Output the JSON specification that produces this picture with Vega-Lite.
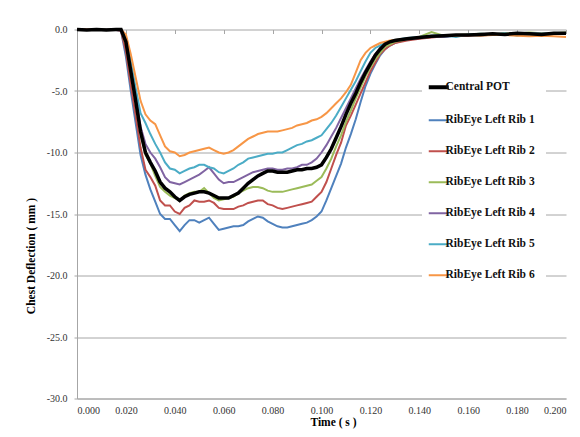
{
"$schema": "https://vega.github.io/schema/vega-lite/v6.json",
"width": 489,
"height": 369,
"autosize": "none",
"padding": {"left": 77, "top": 29.5, "right": 14, "bottom": 38.5},
"background": "white",
"config": {"view": {"stroke": null}, "font": "Liberation Serif"},
"data": {"values": [
{"s":"Central POT","t":0,"v":0},{"s":"Central POT","t":0.004,"v":-0.05},{"s":"Central POT","t":0.008,"v":0},{"s":"Central POT","t":0.012,"v":-0.05},{"s":"Central POT","t":0.016,"v":0},{"s":"Central POT","t":0.018,"v":0},
{"s":"Central POT","t":0.02,"v":-1.0},{"s":"Central POT","t":0.022,"v":-3.4},{"s":"Central POT","t":0.024,"v":-5.8},{"s":"Central POT","t":0.026,"v":-8.3},{"s":"Central POT","t":0.028,"v":-10.0},{"s":"Central POT","t":0.03,"v":-10.8},{"s":"Central POT","t":0.032,"v":-11.5},{"s":"Central POT","t":0.034,"v":-12.4},{"s":"Central POT","t":0.036,"v":-12.9},{"s":"Central POT","t":0.038,"v":-13.2},{"s":"Central POT","t":0.04,"v":-13.6},{"s":"Central POT","t":0.042,"v":-13.9},{"s":"Central POT","t":0.044,"v":-13.6},{"s":"Central POT","t":0.046,"v":-13.4},{"s":"Central POT","t":0.048,"v":-13.3},{"s":"Central POT","t":0.05,"v":-13.2},{"s":"Central POT","t":0.052,"v":-13.2},{"s":"Central POT","t":0.054,"v":-13.3},{"s":"Central POT","t":0.056,"v":-13.5},{"s":"Central POT","t":0.058,"v":-13.7},{"s":"Central POT","t":0.06,"v":-13.7},{"s":"Central POT","t":0.062,"v":-13.7},{"s":"Central POT","t":0.064,"v":-13.5},{"s":"Central POT","t":0.066,"v":-13.3},{"s":"Central POT","t":0.068,"v":-12.9},{"s":"Central POT","t":0.07,"v":-12.5},{"s":"Central POT","t":0.072,"v":-12.2},{"s":"Central POT","t":0.074,"v":-11.9},{"s":"Central POT","t":0.076,"v":-11.7},{"s":"Central POT","t":0.078,"v":-11.5},{"s":"Central POT","t":0.08,"v":-11.5},{"s":"Central POT","t":0.082,"v":-11.6},{"s":"Central POT","t":0.084,"v":-11.6},{"s":"Central POT","t":0.086,"v":-11.6},{"s":"Central POT","t":0.088,"v":-11.5},{"s":"Central POT","t":0.09,"v":-11.4},{"s":"Central POT","t":0.092,"v":-11.4},{"s":"Central POT","t":0.094,"v":-11.3},{"s":"Central POT","t":0.096,"v":-11.3},{"s":"Central POT","t":0.098,"v":-11.2},{"s":"Central POT","t":0.1,"v":-11.0},{"s":"Central POT","t":0.102,"v":-10.4},{"s":"Central POT","t":0.104,"v":-9.7},{"s":"Central POT","t":0.106,"v":-8.8},{"s":"Central POT","t":0.108,"v":-7.9},{"s":"Central POT","t":0.11,"v":-6.9},{"s":"Central POT","t":0.112,"v":-6.0},{"s":"Central POT","t":0.114,"v":-5.2},{"s":"Central POT","t":0.116,"v":-4.3},{"s":"Central POT","t":0.118,"v":-3.5},{"s":"Central POT","t":0.12,"v":-2.8},{"s":"Central POT","t":0.122,"v":-2.1},{"s":"Central POT","t":0.124,"v":-1.6},{"s":"Central POT","t":0.126,"v":-1.2},{"s":"Central POT","t":0.128,"v":-1.0},{"s":"Central POT","t":0.13,"v":-0.9},
{"s":"Central POT","t":0.135,"v":-0.75},{"s":"Central POT","t":0.14,"v":-0.65},{"s":"Central POT","t":0.145,"v":-0.55},{"s":"Central POT","t":0.15,"v":-0.5},{"s":"Central POT","t":0.155,"v":-0.45},{"s":"Central POT","t":0.16,"v":-0.45},{"s":"Central POT","t":0.165,"v":-0.4},{"s":"Central POT","t":0.17,"v":-0.35},{"s":"Central POT","t":0.175,"v":-0.4},{"s":"Central POT","t":0.18,"v":-0.3},{"s":"Central POT","t":0.185,"v":-0.35},{"s":"Central POT","t":0.19,"v":-0.4},{"s":"Central POT","t":0.195,"v":-0.3},{"s":"Central POT","t":0.2,"v":-0.3},

{"s":"RibEye Left Rib 1","t":0,"v":0},{"s":"RibEye Left Rib 1","t":0.004,"v":-0.05},{"s":"RibEye Left Rib 1","t":0.008,"v":0},{"s":"RibEye Left Rib 1","t":0.012,"v":-0.05},{"s":"RibEye Left Rib 1","t":0.016,"v":-0.05},{"s":"RibEye Left Rib 1","t":0.018,"v":-0.1},
{"s":"RibEye Left Rib 1","t":0.02,"v":-2.2},{"s":"RibEye Left Rib 1","t":0.022,"v":-5.0},{"s":"RibEye Left Rib 1","t":0.024,"v":-7.6},{"s":"RibEye Left Rib 1","t":0.026,"v":-10.2},{"s":"RibEye Left Rib 1","t":0.028,"v":-11.8},{"s":"RibEye Left Rib 1","t":0.03,"v":-13.0},{"s":"RibEye Left Rib 1","t":0.032,"v":-14.0},{"s":"RibEye Left Rib 1","t":0.034,"v":-15.0},{"s":"RibEye Left Rib 1","t":0.036,"v":-15.4},{"s":"RibEye Left Rib 1","t":0.038,"v":-15.4},{"s":"RibEye Left Rib 1","t":0.04,"v":-15.9},{"s":"RibEye Left Rib 1","t":0.042,"v":-16.4},{"s":"RibEye Left Rib 1","t":0.044,"v":-15.9},{"s":"RibEye Left Rib 1","t":0.046,"v":-15.5},{"s":"RibEye Left Rib 1","t":0.048,"v":-15.5},{"s":"RibEye Left Rib 1","t":0.05,"v":-15.7},{"s":"RibEye Left Rib 1","t":0.052,"v":-15.5},{"s":"RibEye Left Rib 1","t":0.054,"v":-15.3},{"s":"RibEye Left Rib 1","t":0.056,"v":-15.8},{"s":"RibEye Left Rib 1","t":0.058,"v":-16.3},{"s":"RibEye Left Rib 1","t":0.06,"v":-16.2},{"s":"RibEye Left Rib 1","t":0.062,"v":-16.1},{"s":"RibEye Left Rib 1","t":0.064,"v":-16.0},{"s":"RibEye Left Rib 1","t":0.066,"v":-16.0},{"s":"RibEye Left Rib 1","t":0.068,"v":-15.9},{"s":"RibEye Left Rib 1","t":0.07,"v":-15.6},{"s":"RibEye Left Rib 1","t":0.072,"v":-15.4},{"s":"RibEye Left Rib 1","t":0.074,"v":-15.2},{"s":"RibEye Left Rib 1","t":0.076,"v":-15.3},{"s":"RibEye Left Rib 1","t":0.078,"v":-15.6},{"s":"RibEye Left Rib 1","t":0.08,"v":-15.8},{"s":"RibEye Left Rib 1","t":0.082,"v":-16.0},{"s":"RibEye Left Rib 1","t":0.084,"v":-16.1},{"s":"RibEye Left Rib 1","t":0.086,"v":-16.1},{"s":"RibEye Left Rib 1","t":0.088,"v":-16.0},{"s":"RibEye Left Rib 1","t":0.09,"v":-15.9},{"s":"RibEye Left Rib 1","t":0.092,"v":-15.8},{"s":"RibEye Left Rib 1","t":0.094,"v":-15.7},{"s":"RibEye Left Rib 1","t":0.096,"v":-15.5},{"s":"RibEye Left Rib 1","t":0.098,"v":-15.2},{"s":"RibEye Left Rib 1","t":0.1,"v":-14.8},{"s":"RibEye Left Rib 1","t":0.102,"v":-13.9},{"s":"RibEye Left Rib 1","t":0.104,"v":-12.9},{"s":"RibEye Left Rib 1","t":0.106,"v":-11.9},{"s":"RibEye Left Rib 1","t":0.108,"v":-10.9},{"s":"RibEye Left Rib 1","t":0.11,"v":-9.6},{"s":"RibEye Left Rib 1","t":0.112,"v":-8.5},{"s":"RibEye Left Rib 1","t":0.114,"v":-7.3},{"s":"RibEye Left Rib 1","t":0.116,"v":-5.9},{"s":"RibEye Left Rib 1","t":0.118,"v":-4.6},{"s":"RibEye Left Rib 1","t":0.12,"v":-3.6},{"s":"RibEye Left Rib 1","t":0.122,"v":-2.8},{"s":"RibEye Left Rib 1","t":0.124,"v":-2.1},{"s":"RibEye Left Rib 1","t":0.126,"v":-1.6},{"s":"RibEye Left Rib 1","t":0.128,"v":-1.3},{"s":"RibEye Left Rib 1","t":0.13,"v":-1.1},
{"s":"RibEye Left Rib 1","t":0.135,"v":-0.8},{"s":"RibEye Left Rib 1","t":0.14,"v":-0.7},{"s":"RibEye Left Rib 1","t":0.145,"v":-0.6},{"s":"RibEye Left Rib 1","t":0.15,"v":-0.6},{"s":"RibEye Left Rib 1","t":0.155,"v":-0.5},{"s":"RibEye Left Rib 1","t":0.16,"v":-0.45},{"s":"RibEye Left Rib 1","t":0.165,"v":-0.5},{"s":"RibEye Left Rib 1","t":0.17,"v":-0.4},{"s":"RibEye Left Rib 1","t":0.175,"v":-0.45},{"s":"RibEye Left Rib 1","t":0.18,"v":-0.4},{"s":"RibEye Left Rib 1","t":0.185,"v":-0.35},{"s":"RibEye Left Rib 1","t":0.19,"v":-0.4},{"s":"RibEye Left Rib 1","t":0.195,"v":-0.3},{"s":"RibEye Left Rib 1","t":0.2,"v":-0.35},

{"s":"RibEye Left Rib 2","t":0,"v":0},{"s":"RibEye Left Rib 2","t":0.004,"v":0},{"s":"RibEye Left Rib 2","t":0.008,"v":-0.05},{"s":"RibEye Left Rib 2","t":0.012,"v":0},{"s":"RibEye Left Rib 2","t":0.016,"v":-0.05},{"s":"RibEye Left Rib 2","t":0.018,"v":-0.1},
{"s":"RibEye Left Rib 2","t":0.02,"v":-1.8},{"s":"RibEye Left Rib 2","t":0.022,"v":-4.5},{"s":"RibEye Left Rib 2","t":0.024,"v":-7.0},{"s":"RibEye Left Rib 2","t":0.026,"v":-9.6},{"s":"RibEye Left Rib 2","t":0.028,"v":-11.4},{"s":"RibEye Left Rib 2","t":0.03,"v":-12.0},{"s":"RibEye Left Rib 2","t":0.032,"v":-12.7},{"s":"RibEye Left Rib 2","t":0.034,"v":-13.9},{"s":"RibEye Left Rib 2","t":0.036,"v":-14.3},{"s":"RibEye Left Rib 2","t":0.038,"v":-14.3},{"s":"RibEye Left Rib 2","t":0.04,"v":-14.8},{"s":"RibEye Left Rib 2","t":0.042,"v":-15.0},{"s":"RibEye Left Rib 2","t":0.044,"v":-14.5},{"s":"RibEye Left Rib 2","t":0.046,"v":-14.3},{"s":"RibEye Left Rib 2","t":0.048,"v":-13.9},{"s":"RibEye Left Rib 2","t":0.05,"v":-14.0},{"s":"RibEye Left Rib 2","t":0.052,"v":-14.0},{"s":"RibEye Left Rib 2","t":0.054,"v":-13.9},{"s":"RibEye Left Rib 2","t":0.056,"v":-14.1},{"s":"RibEye Left Rib 2","t":0.058,"v":-14.5},{"s":"RibEye Left Rib 2","t":0.06,"v":-14.6},{"s":"RibEye Left Rib 2","t":0.062,"v":-14.6},{"s":"RibEye Left Rib 2","t":0.064,"v":-14.6},{"s":"RibEye Left Rib 2","t":0.066,"v":-14.4},{"s":"RibEye Left Rib 2","t":0.068,"v":-14.3},{"s":"RibEye Left Rib 2","t":0.07,"v":-14.1},{"s":"RibEye Left Rib 2","t":0.072,"v":-14.0},{"s":"RibEye Left Rib 2","t":0.074,"v":-13.9},{"s":"RibEye Left Rib 2","t":0.076,"v":-13.9},{"s":"RibEye Left Rib 2","t":0.078,"v":-14.2},{"s":"RibEye Left Rib 2","t":0.08,"v":-14.3},{"s":"RibEye Left Rib 2","t":0.082,"v":-14.5},{"s":"RibEye Left Rib 2","t":0.084,"v":-14.6},{"s":"RibEye Left Rib 2","t":0.086,"v":-14.5},{"s":"RibEye Left Rib 2","t":0.088,"v":-14.4},{"s":"RibEye Left Rib 2","t":0.09,"v":-14.3},{"s":"RibEye Left Rib 2","t":0.092,"v":-14.2},{"s":"RibEye Left Rib 2","t":0.094,"v":-14.1},{"s":"RibEye Left Rib 2","t":0.096,"v":-14.0},{"s":"RibEye Left Rib 2","t":0.098,"v":-13.6},{"s":"RibEye Left Rib 2","t":0.1,"v":-13.2},{"s":"RibEye Left Rib 2","t":0.102,"v":-12.4},{"s":"RibEye Left Rib 2","t":0.104,"v":-11.3},{"s":"RibEye Left Rib 2","t":0.106,"v":-10.2},{"s":"RibEye Left Rib 2","t":0.108,"v":-9.2},{"s":"RibEye Left Rib 2","t":0.11,"v":-7.8},{"s":"RibEye Left Rib 2","t":0.112,"v":-7.0},{"s":"RibEye Left Rib 2","t":0.114,"v":-6.1},{"s":"RibEye Left Rib 2","t":0.116,"v":-5.2},{"s":"RibEye Left Rib 2","t":0.118,"v":-4.3},{"s":"RibEye Left Rib 2","t":0.12,"v":-3.4},{"s":"RibEye Left Rib 2","t":0.122,"v":-2.7},{"s":"RibEye Left Rib 2","t":0.124,"v":-2.0},{"s":"RibEye Left Rib 2","t":0.126,"v":-1.6},{"s":"RibEye Left Rib 2","t":0.128,"v":-1.3},{"s":"RibEye Left Rib 2","t":0.13,"v":-1.1},
{"s":"RibEye Left Rib 2","t":0.135,"v":-0.9},{"s":"RibEye Left Rib 2","t":0.14,"v":-0.75},{"s":"RibEye Left Rib 2","t":0.145,"v":-0.65},{"s":"RibEye Left Rib 2","t":0.15,"v":-0.55},{"s":"RibEye Left Rib 2","t":0.155,"v":-0.5},{"s":"RibEye Left Rib 2","t":0.16,"v":-0.5},{"s":"RibEye Left Rib 2","t":0.165,"v":-0.4},{"s":"RibEye Left Rib 2","t":0.17,"v":-0.45},{"s":"RibEye Left Rib 2","t":0.175,"v":-0.35},{"s":"RibEye Left Rib 2","t":0.18,"v":-0.4},{"s":"RibEye Left Rib 2","t":0.185,"v":-0.3},{"s":"RibEye Left Rib 2","t":0.19,"v":-0.35},{"s":"RibEye Left Rib 2","t":0.195,"v":-0.3},{"s":"RibEye Left Rib 2","t":0.2,"v":-0.3},

{"s":"RibEye Left Rib 3","t":0,"v":0},{"s":"RibEye Left Rib 3","t":0.004,"v":-0.05},{"s":"RibEye Left Rib 3","t":0.008,"v":0},{"s":"RibEye Left Rib 3","t":0.012,"v":0},{"s":"RibEye Left Rib 3","t":0.016,"v":-0.05},{"s":"RibEye Left Rib 3","t":0.018,"v":-0.05},
{"s":"RibEye Left Rib 3","t":0.02,"v":-1.2},{"s":"RibEye Left Rib 3","t":0.022,"v":-3.6},{"s":"RibEye Left Rib 3","t":0.024,"v":-6.0},{"s":"RibEye Left Rib 3","t":0.026,"v":-8.5},{"s":"RibEye Left Rib 3","t":0.028,"v":-10.2},{"s":"RibEye Left Rib 3","t":0.03,"v":-10.9},{"s":"RibEye Left Rib 3","t":0.032,"v":-11.9},{"s":"RibEye Left Rib 3","t":0.034,"v":-12.8},{"s":"RibEye Left Rib 3","t":0.036,"v":-13.2},{"s":"RibEye Left Rib 3","t":0.038,"v":-13.5},{"s":"RibEye Left Rib 3","t":0.04,"v":-13.7},{"s":"RibEye Left Rib 3","t":0.042,"v":-13.9},{"s":"RibEye Left Rib 3","t":0.044,"v":-13.5},{"s":"RibEye Left Rib 3","t":0.046,"v":-13.3},{"s":"RibEye Left Rib 3","t":0.048,"v":-13.2},{"s":"RibEye Left Rib 3","t":0.05,"v":-13.2},{"s":"RibEye Left Rib 3","t":0.052,"v":-12.9},{"s":"RibEye Left Rib 3","t":0.054,"v":-13.3},{"s":"RibEye Left Rib 3","t":0.056,"v":-13.7},{"s":"RibEye Left Rib 3","t":0.058,"v":-13.9},{"s":"RibEye Left Rib 3","t":0.06,"v":-13.8},{"s":"RibEye Left Rib 3","t":0.062,"v":-13.7},{"s":"RibEye Left Rib 3","t":0.064,"v":-13.6},{"s":"RibEye Left Rib 3","t":0.066,"v":-13.3},{"s":"RibEye Left Rib 3","t":0.068,"v":-13.1},{"s":"RibEye Left Rib 3","t":0.07,"v":-12.9},{"s":"RibEye Left Rib 3","t":0.072,"v":-12.8},{"s":"RibEye Left Rib 3","t":0.074,"v":-12.8},{"s":"RibEye Left Rib 3","t":0.076,"v":-12.9},{"s":"RibEye Left Rib 3","t":0.078,"v":-13.1},{"s":"RibEye Left Rib 3","t":0.08,"v":-13.2},{"s":"RibEye Left Rib 3","t":0.082,"v":-13.2},{"s":"RibEye Left Rib 3","t":0.084,"v":-13.2},{"s":"RibEye Left Rib 3","t":0.086,"v":-13.1},{"s":"RibEye Left Rib 3","t":0.088,"v":-13.0},{"s":"RibEye Left Rib 3","t":0.09,"v":-12.9},{"s":"RibEye Left Rib 3","t":0.092,"v":-12.8},{"s":"RibEye Left Rib 3","t":0.094,"v":-12.7},{"s":"RibEye Left Rib 3","t":0.096,"v":-12.6},{"s":"RibEye Left Rib 3","t":0.098,"v":-12.3},{"s":"RibEye Left Rib 3","t":0.1,"v":-12.0},{"s":"RibEye Left Rib 3","t":0.102,"v":-11.3},{"s":"RibEye Left Rib 3","t":0.104,"v":-10.5},{"s":"RibEye Left Rib 3","t":0.106,"v":-9.5},{"s":"RibEye Left Rib 3","t":0.108,"v":-8.6},{"s":"RibEye Left Rib 3","t":0.11,"v":-7.5},{"s":"RibEye Left Rib 3","t":0.112,"v":-6.6},{"s":"RibEye Left Rib 3","t":0.114,"v":-5.6},{"s":"RibEye Left Rib 3","t":0.116,"v":-4.7},{"s":"RibEye Left Rib 3","t":0.118,"v":-3.8},{"s":"RibEye Left Rib 3","t":0.12,"v":-3.1},{"s":"RibEye Left Rib 3","t":0.122,"v":-2.4},{"s":"RibEye Left Rib 3","t":0.124,"v":-1.9},{"s":"RibEye Left Rib 3","t":0.126,"v":-1.4},{"s":"RibEye Left Rib 3","t":0.128,"v":-1.2},{"s":"RibEye Left Rib 3","t":0.13,"v":-1.0},
{"s":"RibEye Left Rib 3","t":0.135,"v":-0.8},{"s":"RibEye Left Rib 3","t":0.14,"v":-0.6},{"s":"RibEye Left Rib 3","t":0.145,"v":-0.2},{"s":"RibEye Left Rib 3","t":0.15,"v":-0.5},{"s":"RibEye Left Rib 3","t":0.155,"v":-0.45},{"s":"RibEye Left Rib 3","t":0.16,"v":-0.4},{"s":"RibEye Left Rib 3","t":0.165,"v":-0.35},{"s":"RibEye Left Rib 3","t":0.17,"v":-0.4},{"s":"RibEye Left Rib 3","t":0.175,"v":-0.3},{"s":"RibEye Left Rib 3","t":0.18,"v":-0.35},{"s":"RibEye Left Rib 3","t":0.185,"v":-0.25},{"s":"RibEye Left Rib 3","t":0.19,"v":-0.3},{"s":"RibEye Left Rib 3","t":0.195,"v":-0.3},{"s":"RibEye Left Rib 3","t":0.2,"v":-0.25},

{"s":"RibEye Left Rib 4","t":0,"v":0},{"s":"RibEye Left Rib 4","t":0.004,"v":0},{"s":"RibEye Left Rib 4","t":0.008,"v":-0.05},{"s":"RibEye Left Rib 4","t":0.012,"v":0},{"s":"RibEye Left Rib 4","t":0.016,"v":0},{"s":"RibEye Left Rib 4","t":0.018,"v":0},
{"s":"RibEye Left Rib 4","t":0.02,"v":-0.8},{"s":"RibEye Left Rib 4","t":0.022,"v":-3.0},{"s":"RibEye Left Rib 4","t":0.024,"v":-5.3},{"s":"RibEye Left Rib 4","t":0.026,"v":-7.9},{"s":"RibEye Left Rib 4","t":0.028,"v":-9.3},{"s":"RibEye Left Rib 4","t":0.03,"v":-10.0},{"s":"RibEye Left Rib 4","t":0.032,"v":-10.5},{"s":"RibEye Left Rib 4","t":0.034,"v":-11.2},{"s":"RibEye Left Rib 4","t":0.036,"v":-12.0},{"s":"RibEye Left Rib 4","t":0.038,"v":-12.4},{"s":"RibEye Left Rib 4","t":0.04,"v":-12.5},{"s":"RibEye Left Rib 4","t":0.042,"v":-12.6},{"s":"RibEye Left Rib 4","t":0.044,"v":-12.4},{"s":"RibEye Left Rib 4","t":0.046,"v":-12.2},{"s":"RibEye Left Rib 4","t":0.048,"v":-12.0},{"s":"RibEye Left Rib 4","t":0.05,"v":-11.8},{"s":"RibEye Left Rib 4","t":0.052,"v":-11.5},{"s":"RibEye Left Rib 4","t":0.054,"v":-11.2},{"s":"RibEye Left Rib 4","t":0.056,"v":-11.7},{"s":"RibEye Left Rib 4","t":0.058,"v":-12.2},{"s":"RibEye Left Rib 4","t":0.06,"v":-12.5},{"s":"RibEye Left Rib 4","t":0.062,"v":-12.4},{"s":"RibEye Left Rib 4","t":0.064,"v":-12.4},{"s":"RibEye Left Rib 4","t":0.066,"v":-12.2},{"s":"RibEye Left Rib 4","t":0.068,"v":-12.0},{"s":"RibEye Left Rib 4","t":0.07,"v":-11.8},{"s":"RibEye Left Rib 4","t":0.072,"v":-11.6},{"s":"RibEye Left Rib 4","t":0.074,"v":-11.5},{"s":"RibEye Left Rib 4","t":0.076,"v":-11.4},{"s":"RibEye Left Rib 4","t":0.078,"v":-11.3},{"s":"RibEye Left Rib 4","t":0.08,"v":-11.3},{"s":"RibEye Left Rib 4","t":0.082,"v":-11.4},{"s":"RibEye Left Rib 4","t":0.084,"v":-11.4},{"s":"RibEye Left Rib 4","t":0.086,"v":-11.3},{"s":"RibEye Left Rib 4","t":0.088,"v":-11.3},{"s":"RibEye Left Rib 4","t":0.09,"v":-11.2},{"s":"RibEye Left Rib 4","t":0.092,"v":-11.0},{"s":"RibEye Left Rib 4","t":0.094,"v":-11.0},{"s":"RibEye Left Rib 4","t":0.096,"v":-10.8},{"s":"RibEye Left Rib 4","t":0.098,"v":-10.5},{"s":"RibEye Left Rib 4","t":0.1,"v":-10.0},{"s":"RibEye Left Rib 4","t":0.102,"v":-9.4},{"s":"RibEye Left Rib 4","t":0.104,"v":-8.7},{"s":"RibEye Left Rib 4","t":0.106,"v":-8.0},{"s":"RibEye Left Rib 4","t":0.108,"v":-7.2},{"s":"RibEye Left Rib 4","t":0.11,"v":-6.4},{"s":"RibEye Left Rib 4","t":0.112,"v":-5.6},{"s":"RibEye Left Rib 4","t":0.114,"v":-4.8},{"s":"RibEye Left Rib 4","t":0.116,"v":-4.0},{"s":"RibEye Left Rib 4","t":0.118,"v":-3.3},{"s":"RibEye Left Rib 4","t":0.12,"v":-2.6},{"s":"RibEye Left Rib 4","t":0.122,"v":-2.0},{"s":"RibEye Left Rib 4","t":0.124,"v":-1.5},{"s":"RibEye Left Rib 4","t":0.126,"v":-1.2},{"s":"RibEye Left Rib 4","t":0.128,"v":-1.0},{"s":"RibEye Left Rib 4","t":0.13,"v":-0.9},
{"s":"RibEye Left Rib 4","t":0.135,"v":-0.8},{"s":"RibEye Left Rib 4","t":0.14,"v":-0.7},{"s":"RibEye Left Rib 4","t":0.145,"v":-0.6},{"s":"RibEye Left Rib 4","t":0.15,"v":-0.55},{"s":"RibEye Left Rib 4","t":0.155,"v":-0.5},{"s":"RibEye Left Rib 4","t":0.16,"v":-0.45},{"s":"RibEye Left Rib 4","t":0.165,"v":-0.45},{"s":"RibEye Left Rib 4","t":0.17,"v":-0.4},{"s":"RibEye Left Rib 4","t":0.175,"v":-0.4},{"s":"RibEye Left Rib 4","t":0.18,"v":-0.35},{"s":"RibEye Left Rib 4","t":0.185,"v":-0.3},{"s":"RibEye Left Rib 4","t":0.19,"v":-0.35},{"s":"RibEye Left Rib 4","t":0.195,"v":-0.3},{"s":"RibEye Left Rib 4","t":0.2,"v":-0.3},

{"s":"RibEye Left Rib 5","t":0,"v":0},{"s":"RibEye Left Rib 5","t":0.004,"v":-0.05},{"s":"RibEye Left Rib 5","t":0.008,"v":0},{"s":"RibEye Left Rib 5","t":0.012,"v":-0.05},{"s":"RibEye Left Rib 5","t":0.016,"v":0},{"s":"RibEye Left Rib 5","t":0.018,"v":0},
{"s":"RibEye Left Rib 5","t":0.02,"v":-0.6},{"s":"RibEye Left Rib 5","t":0.022,"v":-2.6},{"s":"RibEye Left Rib 5","t":0.024,"v":-4.8},{"s":"RibEye Left Rib 5","t":0.026,"v":-6.8},{"s":"RibEye Left Rib 5","t":0.028,"v":-7.6},{"s":"RibEye Left Rib 5","t":0.03,"v":-8.5},{"s":"RibEye Left Rib 5","t":0.032,"v":-9.3},{"s":"RibEye Left Rib 5","t":0.034,"v":-10.0},{"s":"RibEye Left Rib 5","t":0.036,"v":-10.8},{"s":"RibEye Left Rib 5","t":0.038,"v":-11.3},{"s":"RibEye Left Rib 5","t":0.04,"v":-11.4},{"s":"RibEye Left Rib 5","t":0.042,"v":-11.7},{"s":"RibEye Left Rib 5","t":0.044,"v":-11.5},{"s":"RibEye Left Rib 5","t":0.046,"v":-11.3},{"s":"RibEye Left Rib 5","t":0.048,"v":-11.2},{"s":"RibEye Left Rib 5","t":0.05,"v":-11.0},{"s":"RibEye Left Rib 5","t":0.052,"v":-11.0},{"s":"RibEye Left Rib 5","t":0.054,"v":-11.2},{"s":"RibEye Left Rib 5","t":0.056,"v":-11.3},{"s":"RibEye Left Rib 5","t":0.058,"v":-11.6},{"s":"RibEye Left Rib 5","t":0.06,"v":-11.7},{"s":"RibEye Left Rib 5","t":0.062,"v":-11.5},{"s":"RibEye Left Rib 5","t":0.064,"v":-11.3},{"s":"RibEye Left Rib 5","t":0.066,"v":-11.0},{"s":"RibEye Left Rib 5","t":0.068,"v":-10.8},{"s":"RibEye Left Rib 5","t":0.07,"v":-10.5},{"s":"RibEye Left Rib 5","t":0.072,"v":-10.4},{"s":"RibEye Left Rib 5","t":0.074,"v":-10.3},{"s":"RibEye Left Rib 5","t":0.076,"v":-10.2},{"s":"RibEye Left Rib 5","t":0.078,"v":-10.1},{"s":"RibEye Left Rib 5","t":0.08,"v":-10.1},{"s":"RibEye Left Rib 5","t":0.082,"v":-10.0},{"s":"RibEye Left Rib 5","t":0.084,"v":-10.0},{"s":"RibEye Left Rib 5","t":0.086,"v":-9.8},{"s":"RibEye Left Rib 5","t":0.088,"v":-9.6},{"s":"RibEye Left Rib 5","t":0.09,"v":-9.4},{"s":"RibEye Left Rib 5","t":0.092,"v":-9.3},{"s":"RibEye Left Rib 5","t":0.094,"v":-9.1},{"s":"RibEye Left Rib 5","t":0.096,"v":-9.0},{"s":"RibEye Left Rib 5","t":0.098,"v":-8.8},{"s":"RibEye Left Rib 5","t":0.1,"v":-8.6},{"s":"RibEye Left Rib 5","t":0.102,"v":-8.1},{"s":"RibEye Left Rib 5","t":0.104,"v":-7.6},{"s":"RibEye Left Rib 5","t":0.106,"v":-7.0},{"s":"RibEye Left Rib 5","t":0.108,"v":-6.3},{"s":"RibEye Left Rib 5","t":0.11,"v":-5.6},{"s":"RibEye Left Rib 5","t":0.112,"v":-4.9},{"s":"RibEye Left Rib 5","t":0.114,"v":-4.2},{"s":"RibEye Left Rib 5","t":0.116,"v":-3.4},{"s":"RibEye Left Rib 5","t":0.118,"v":-2.6},{"s":"RibEye Left Rib 5","t":0.12,"v":-1.9},{"s":"RibEye Left Rib 5","t":0.122,"v":-1.5},{"s":"RibEye Left Rib 5","t":0.124,"v":-1.3},{"s":"RibEye Left Rib 5","t":0.126,"v":-1.1},{"s":"RibEye Left Rib 5","t":0.128,"v":-0.95},{"s":"RibEye Left Rib 5","t":0.13,"v":-0.85},
{"s":"RibEye Left Rib 5","t":0.135,"v":-0.7},{"s":"RibEye Left Rib 5","t":0.14,"v":-0.6},{"s":"RibEye Left Rib 5","t":0.145,"v":-0.5},{"s":"RibEye Left Rib 5","t":0.15,"v":-0.45},{"s":"RibEye Left Rib 5","t":0.155,"v":-0.6},{"s":"RibEye Left Rib 5","t":0.16,"v":-0.4},{"s":"RibEye Left Rib 5","t":0.165,"v":-0.35},{"s":"RibEye Left Rib 5","t":0.17,"v":-0.4},{"s":"RibEye Left Rib 5","t":0.175,"v":-0.3},{"s":"RibEye Left Rib 5","t":0.18,"v":-0.5},{"s":"RibEye Left Rib 5","t":0.185,"v":-0.3},{"s":"RibEye Left Rib 5","t":0.19,"v":-0.35},{"s":"RibEye Left Rib 5","t":0.195,"v":-0.3},{"s":"RibEye Left Rib 5","t":0.2,"v":-0.3},

{"s":"RibEye Left Rib 6","t":0,"v":0},{"s":"RibEye Left Rib 6","t":0.004,"v":0},{"s":"RibEye Left Rib 6","t":0.008,"v":0},{"s":"RibEye Left Rib 6","t":0.012,"v":-0.05},{"s":"RibEye Left Rib 6","t":0.016,"v":0},{"s":"RibEye Left Rib 6","t":0.018,"v":0},
{"s":"RibEye Left Rib 6","t":0.02,"v":-0.4},{"s":"RibEye Left Rib 6","t":0.022,"v":-2.0},{"s":"RibEye Left Rib 6","t":0.024,"v":-3.9},{"s":"RibEye Left Rib 6","t":0.026,"v":-5.8},{"s":"RibEye Left Rib 6","t":0.028,"v":-6.9},{"s":"RibEye Left Rib 6","t":0.03,"v":-7.4},{"s":"RibEye Left Rib 6","t":0.032,"v":-7.7},{"s":"RibEye Left Rib 6","t":0.034,"v":-8.6},{"s":"RibEye Left Rib 6","t":0.036,"v":-9.5},{"s":"RibEye Left Rib 6","t":0.038,"v":-9.9},{"s":"RibEye Left Rib 6","t":0.04,"v":-10.0},{"s":"RibEye Left Rib 6","t":0.042,"v":-10.3},{"s":"RibEye Left Rib 6","t":0.044,"v":-10.2},{"s":"RibEye Left Rib 6","t":0.046,"v":-10.0},{"s":"RibEye Left Rib 6","t":0.048,"v":-9.9},{"s":"RibEye Left Rib 6","t":0.05,"v":-9.8},{"s":"RibEye Left Rib 6","t":0.052,"v":-9.7},{"s":"RibEye Left Rib 6","t":0.054,"v":-9.6},{"s":"RibEye Left Rib 6","t":0.056,"v":-9.8},{"s":"RibEye Left Rib 6","t":0.058,"v":-10.0},{"s":"RibEye Left Rib 6","t":0.06,"v":-10.1},{"s":"RibEye Left Rib 6","t":0.062,"v":-10.0},{"s":"RibEye Left Rib 6","t":0.064,"v":-9.8},{"s":"RibEye Left Rib 6","t":0.066,"v":-9.5},{"s":"RibEye Left Rib 6","t":0.068,"v":-9.2},{"s":"RibEye Left Rib 6","t":0.07,"v":-8.9},{"s":"RibEye Left Rib 6","t":0.072,"v":-8.7},{"s":"RibEye Left Rib 6","t":0.074,"v":-8.5},{"s":"RibEye Left Rib 6","t":0.076,"v":-8.4},{"s":"RibEye Left Rib 6","t":0.078,"v":-8.3},{"s":"RibEye Left Rib 6","t":0.08,"v":-8.3},{"s":"RibEye Left Rib 6","t":0.082,"v":-8.3},{"s":"RibEye Left Rib 6","t":0.084,"v":-8.2},{"s":"RibEye Left Rib 6","t":0.086,"v":-8.1},{"s":"RibEye Left Rib 6","t":0.088,"v":-8.0},{"s":"RibEye Left Rib 6","t":0.09,"v":-7.8},{"s":"RibEye Left Rib 6","t":0.092,"v":-7.7},{"s":"RibEye Left Rib 6","t":0.094,"v":-7.6},{"s":"RibEye Left Rib 6","t":0.096,"v":-7.4},{"s":"RibEye Left Rib 6","t":0.098,"v":-7.3},{"s":"RibEye Left Rib 6","t":0.1,"v":-7.1},{"s":"RibEye Left Rib 6","t":0.102,"v":-6.8},{"s":"RibEye Left Rib 6","t":0.104,"v":-6.4},{"s":"RibEye Left Rib 6","t":0.106,"v":-6.0},{"s":"RibEye Left Rib 6","t":0.108,"v":-5.6},{"s":"RibEye Left Rib 6","t":0.11,"v":-5.1},{"s":"RibEye Left Rib 6","t":0.112,"v":-4.5},{"s":"RibEye Left Rib 6","t":0.114,"v":-3.5},{"s":"RibEye Left Rib 6","t":0.116,"v":-2.5},{"s":"RibEye Left Rib 6","t":0.118,"v":-1.9},{"s":"RibEye Left Rib 6","t":0.12,"v":-1.5},{"s":"RibEye Left Rib 6","t":0.122,"v":-1.3},{"s":"RibEye Left Rib 6","t":0.124,"v":-1.1},{"s":"RibEye Left Rib 6","t":0.126,"v":-1.0},{"s":"RibEye Left Rib 6","t":0.128,"v":-0.9},{"s":"RibEye Left Rib 6","t":0.13,"v":-0.85},
{"s":"RibEye Left Rib 6","t":0.135,"v":-0.75},{"s":"RibEye Left Rib 6","t":0.14,"v":-0.65},{"s":"RibEye Left Rib 6","t":0.145,"v":-0.55},{"s":"RibEye Left Rib 6","t":0.15,"v":-0.5},{"s":"RibEye Left Rib 6","t":0.155,"v":-0.5},{"s":"RibEye Left Rib 6","t":0.16,"v":-0.45},{"s":"RibEye Left Rib 6","t":0.165,"v":-0.5},{"s":"RibEye Left Rib 6","t":0.17,"v":-0.45},{"s":"RibEye Left Rib 6","t":0.175,"v":-0.45},{"s":"RibEye Left Rib 6","t":0.18,"v":-0.5},{"s":"RibEye Left Rib 6","t":0.185,"v":-0.55},{"s":"RibEye Left Rib 6","t":0.19,"v":-0.5},{"s":"RibEye Left Rib 6","t":0.195,"v":-0.55},{"s":"RibEye Left Rib 6","t":0.2,"v":-0.6}
]},
"encoding": {
  "y": {"field": "v", "type": "quantitative",
    "scale": {"domain": [-30, 0], "nice": false, "zero": false},
    "axis": {"values": [0, -5, -10, -15, -20, -25, -30],
      "labelExpr": "replace(format(datum.value, '.1f'), '\u2212', '-')",
      "grid": true, "gridColor": "#a6a6a6", "gridWidth": 1,
      "domainColor": "#a6a6a6", "tickColor": "#a6a6a6", "tickSize": 3,
      "labelPadding": 7, "labelFont": "Liberation Serif", "labelFontSize": 10, "labelColor": "#333333",
      "title": "Chest Deflection ( mm )", "titleFont": "Liberation Serif", "titleFontSize": 11.5,
      "titleFontWeight": "bold", "titleColor": "#000000", "titleAngle": -90,
      "titleX": -43, "titleY": 226, "titleAlign": "center", "titleBaseline": "alphabetic"}},
  "color": {"field": "s", "type": "nominal",
    "scale": {"domain": ["Central POT", "RibEye Left Rib 1", "RibEye Left Rib 2", "RibEye Left Rib 3", "RibEye Left Rib 4", "RibEye Left Rib 5", "RibEye Left Rib 6"],
      "range": ["#000000", "#4F81BD", "#C0504D", "#9BBB59", "#8064A2", "#4BACC6", "#F79646"]},
    "legend": {"orient": "none", "legendX": 345, "legendY": 41, "title": null,
      "fillColor": "white", "padding": 11, "symbolType": "stroke", "symbolSize": 400,
      "symbolStrokeWidth": 2, "labelFont": "Liberation Serif", "labelFontSize": 11.5,
      "labelFontWeight": "bold", "labelColor": "#111111", "labelOffset": 1, "rowPadding": 18,
      "encode": {"symbols": {"update": {"strokeWidth": {"signal": "datum.value === 'Central POT' ? 4 : 2"}}}}}}
},
"layer": [
  {"transform": [{"filter": "datum.s !== 'Central POT'"}],
   "mark": {"type": "line", "strokeWidth": 2},
   "encoding": {"x": {"field": "t", "type": "quantitative",
     "scale": {"domain": [0, 0.2], "nice": false, "zero": false},
     "axis": {"orient": "bottom", "values": [0, 0.02, 0.04, 0.06, 0.08, 0.1, 0.12, 0.14, 0.16, 0.18, 0.2],
       "format": ".3f", "grid": false, "ticks": false, "domainColor": "#a6a6a6",
       "labelPadding": 7, "labelFont": "Liberation Serif", "labelFontSize": 10, "labelColor": "#333333",
       "title": "Time ( s )", "titleFont": "Liberation Serif", "titleFontSize": 11.5, "titleFontWeight": "bold",
       "titleColor": "#000000", "titleX": 256, "titleY": 27, "titleAlign": "center", "titleBaseline": "alphabetic"}}}},
  {"transform": [{"filter": "datum.s === 'Central POT'"}],
   "mark": {"type": "line", "strokeWidth": 3.5},
   "encoding": {"x": {"field": "t", "type": "quantitative",
     "axis": {"orient": "top", "values": [0, 0.02, 0.04, 0.06, 0.08, 0.1, 0.12, 0.14, 0.16, 0.18, 0.2],
       "labels": false, "title": null, "domain": false, "grid": false,
       "ticks": true, "tickSize": -4, "tickColor": "#a6a6a6"}}}}
],
"resolve": {"axis": {"x": "independent"}}
}
